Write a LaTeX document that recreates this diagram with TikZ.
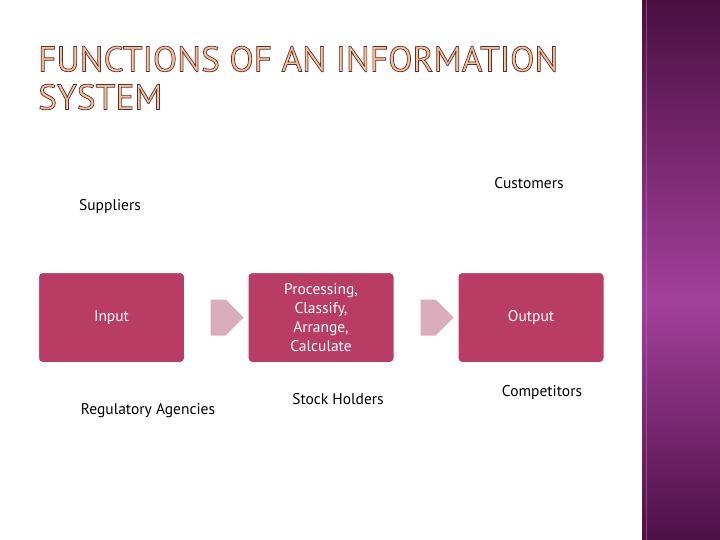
\documentclass[tikz,border=0pt]{standalone}
\usepackage{fontspec}
\setmainfont{PT Sans}
\usetikzlibrary{shapes.arrows}
\definecolor{boxc}{HTML}{B83C64}
\definecolor{arrc}{HTML}{D9ADBC}
\definecolor{bandtop}{HTML}{4A0F40}
\definecolor{bandmid}{HTML}{A3409C}
\definecolor{bandbot}{HTML}{4E1046}
\begin{document}
\begin{tikzpicture}[x=1pt,y=-1pt,
  box/.style={draw=white,line width=1pt,fill=boxc,rounded corners=4pt,minimum width=146pt,minimum height=90pt,text=white,font=\fontsize{15.5}{19}\selectfont,align=center},
  arr/.style={single arrow,fill=arrc,minimum height=33pt,minimum width=36pt,single arrow head extend=0pt,inner sep=0pt},
  lab/.style={font=\fontsize{15.5}{18}\selectfont,text=black}]
\useasboundingbox (0,0) rectangle (720,540);
\fill[white] (0,0) rectangle (720,540);
\shade[top color=bandtop,bottom color=bandmid] (642,0) rectangle (720,300);
\shade[top color=bandmid,bottom color=bandbot] (642,300) rectangle (720,540);
\draw[bandmid!70!white,opacity=0.5] (646,0) -- (646,540);
\node[anchor=west,font=\fontsize{35.5}{38}\selectfont,align=left,inner sep=0pt] (title) at (38,78)
 {\special{pdf:literal direct 0.35 0.18 0.25 RG 0.97 0.76 0.55 rg 2 Tr 0.7 w}FUNCTIONS OF AN INFORMATION\\SYSTEM\special{pdf:literal direct 0 Tr}};
\node[box] (in) at (111.5,317.5) {Input};
\node[box] (pr) at (321,317.5) {Processing,\\Classify,\\Arrange,\\Calculate};
\node[box] (out) at (531,317.5) {Output};
\node[arr] (a1) at (218,317.5) {};
\node[arr] (a2) at (428,317.5) {};
\node[lab] (cu) at (529,183) {Customers};
\node[lab] (su) at (110,207) {Suppliers};
\node[lab] (ra) at (148,411) {Regulatory Agencies};
\node[lab] (sh) at (338,399) {Stock Holders};
\node[lab] (co) at (542,393) {Competitors};
\end{tikzpicture}
\end{document}
